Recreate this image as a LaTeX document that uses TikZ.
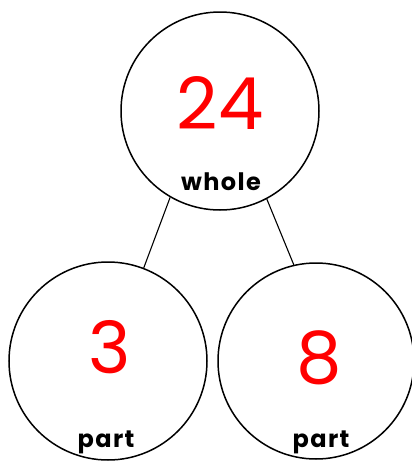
\documentclass[tikz,border=0pt]{standalone}
\usepackage{fontspec}
\setmainfont{Poppins}
\newfontfamily\labfont[LetterSpace=6]{Poppins}
\begin{document}
\begin{tikzpicture}[x=1pt,y=-1pt,
  ring/.style={circle,draw=black,line width=1.5pt,inner sep=0pt,minimum size=#1},
  num/.style={text=red,font=\fontsize{72}{72}\selectfont,inner sep=0pt,anchor=center},
  lab/.style={font=\labfont\bfseries\fontsize{24}{24}\selectfont,inner sep=0pt,anchor=base},
  link/.style={draw=black,line width=1.1pt}]
\useasboundingbox (0,0) rectangle (412,461);
\clip (0,0) rectangle (412,461);
\node[ring=198pt] (whole) at (220,111) {};
\node[ring=198pt] (left) at (108,361) {};
\node[ring=196pt] (right) at (316,361) {};
\node[num] (n24) at (220,103) {24};
\node[num] (n3) at (110,347) {3};
\node[num] (n8) at (319,358) {8};
\node[lab] (lw) at (221,190) {whole};
\node[lab] (lp1) at (106,447) {part};
\node[lab] (lp2) at (321,447) {part};
\draw[link] (whole.-120.6) -- (left.69.6);
\draw[link] (whole.-62.4) -- (right.103);
\end{tikzpicture}
\end{document}
